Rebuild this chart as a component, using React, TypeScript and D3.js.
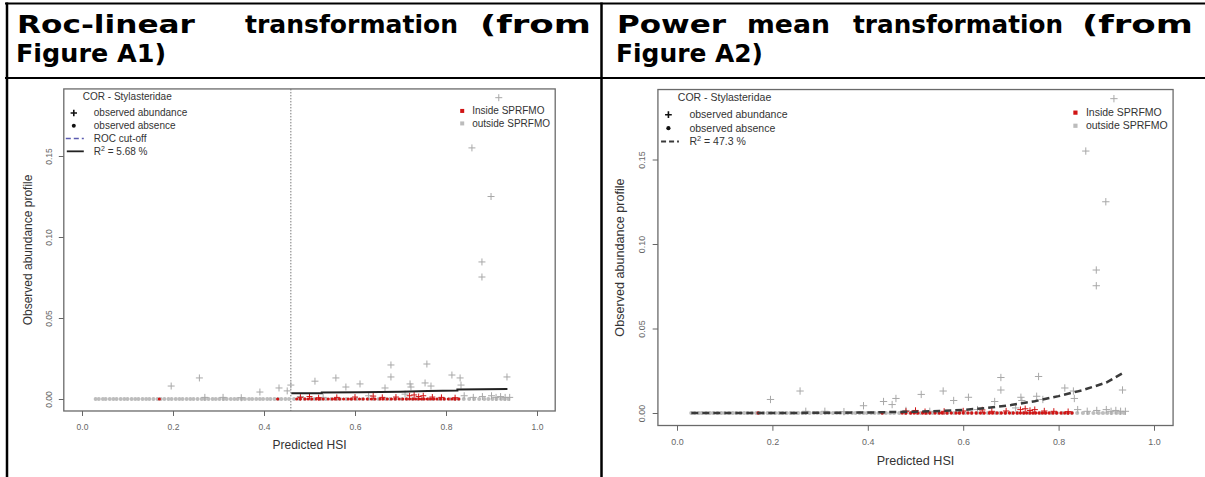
import React, { useEffect, useRef } from 'react';
import * as d3 from 'd3';

// predicted HSI of absence records (observed abundance = 0)
const absentOutsideX = [
  0.03, 0.037, 0.046, 0.052, 0.061, 0.069, 0.076, 0.085, 0.093, 0.1, 0.109, 0.117, 0.124, 0.133,
  0.141, 0.148, 0.157, 0.166, 0.173, 0.181, 0.19, 0.197, 0.206, 0.214, 0.221, 0.23, 0.238, 0.245,
  0.254, 0.263, 0.27, 0.278, 0.287, 0.294, 0.302, 0.311, 0.318, 0.327, 0.335, 0.342, 0.351, 0.358,
  0.367, 0.374, 0.383, 0.391, 0.398, 0.407, 0.414, 0.423, 0.431, 0.438, 0.447, 0.455,
  0.466, 0.478, 0.489, 0.503, 0.511, 0.524, 0.536, 0.548, 0.559, 0.567, 0.581, 0.592, 0.604, 0.617,
  0.629, 0.641, 0.652, 0.668, 0.677, 0.689, 0.703, 0.714, 0.727, 0.738, 0.749, 0.762, 0.771, 0.784,
  0.796, 0.808, 0.819, 0.828, 0.839, 0.851, 0.862, 0.873, 0.884, 0.893, 0.902, 0.911, 0.921, 0.929, 0.937
];
const absentInsideX = [
  0.17, 0.43, 0.472, 0.48, 0.49, 0.497, 0.505, 0.515, 0.522, 0.53, 0.541, 0.55, 0.556, 0.566, 0.575,
  0.585, 0.592, 0.6, 0.61, 0.618, 0.627, 0.636, 0.644, 0.655, 0.662, 0.671, 0.68, 0.688, 0.697, 0.705,
  0.713, 0.72, 0.727, 0.733, 0.74, 0.746, 0.752, 0.759, 0.766, 0.773, 0.78, 0.788, 0.796, 0.805,
  0.813, 0.82, 0.828
];

// abundance records [predicted HSI, observed abundance profile]
const presentOutside: [number, number][] = [
  [0.916, 0.186], [0.857, 0.155], [0.899, 0.125], [0.879, 0.0846], [0.879, 0.0753],
  [0.196, 0.008], [0.258, 0.013], [0.391, 0.0043], [0.433, 0.0068], [0.451, 0.005], [0.459, 0.0086],
  [0.512, 0.011], [0.558, 0.013], [0.58, 0.0074], [0.611, 0.0093], [0.666, 0.0068], [0.679, 0.021],
  [0.679, 0.0136], [0.721, 0.0093], [0.723, 0.0074], [0.758, 0.0216], [0.754, 0.0099], [0.767, 0.008],
  [0.813, 0.0148], [0.831, 0.013], [0.833, 0.0086], [0.934, 0.0136],
  [0.27, 0.001], [0.31, 0.001], [0.35, 0.0008], [0.48, 0.0015], [0.53, 0.001], [0.63, 0.002],
  [0.71, 0.003], [0.84, 0.002], [0.86, 0.001], [0.88, 0.0015], [0.9, 0.002], [0.91, 0.001],
  [0.92, 0.0015], [0.93, 0.001], [0.94, 0.001]
];
const presentInside: [number, number][] = [
  [0.48, 0.001], [0.5, 0.0015], [0.52, 0.0008], [0.56, 0.001], [0.6, 0.0012], [0.64, 0.0018],
  [0.66, 0.001], [0.69, 0.0012], [0.72, 0.002], [0.73, 0.0025], [0.74, 0.0015], [0.75, 0.002],
  [0.77, 0.0012], [0.79, 0.001], [0.82, 0.0008]
];

// fitted curves
const rocCutoff = 0.459;
const rocFitX = [0.46, 0.527, 0.527, 0.61, 0.7, 0.76, 0.825, 0.825, 0.935];
const rocFitY = [0.0035, 0.0036, 0.004, 0.0042, 0.0045, 0.0049, 0.0052, 0.0059, 0.0062];
const powerFitX = [0.03, 0.1, 0.2, 0.3, 0.4, 0.5, 0.55, 0.6, 0.65, 0.7, 0.75, 0.8, 0.85, 0.9, 0.935];
const powerFitY = [0, 0, 0.00002, 0.0001, 0.0003, 0.0008, 0.0012, 0.0018, 0.003, 0.0047, 0.007, 0.01, 0.0135, 0.018, 0.0237];

const xTicks = [0, 0.2, 0.4, 0.6, 0.8, 1.0];
const yTicks = [0, 0.05, 0.1, 0.15];

const FONT = '"Liberation Sans", Arial, sans-serif';
const RED = '#d01414';

const panels = [
  { x0: 82, x1: 537, y0: 399, y15: 156, k: 1, fit: 'roc', r2: '5.68' },
  { x0: 677, x1: 1154, y0: 413, y15: 159.5, k: 1.05, fit: 'power', r2: '47.3' }
];

// header words: [text, left, right, baseline]
const headerWords: [string, number, number, number][] = [
  ['Roc-linear', 17, 195, 33], ['transformation', 245, 458, 33], ['(from', 480, 591, 33],
  ['Figure A1)', 16, 166, 62],
  ['Power', 617, 726, 33], ['mean', 747, 830, 33], ['transformation', 853, 1063, 33], ['(from', 1082, 1193, 33],
  ['Figure A2)', 616, 763, 62]
];

const plus = (cx: number, cy: number, s: number) =>
  `M${cx - s},${cy}H${cx + s}M${cx},${cy - s}V${cy + s}`;

const drawPanel = (svg: any, p: any) => {
  const k = p.k;
  const x = d3.scaleLinear().domain([0, 1]).range([p.x0, p.x1]);
  const y = d3.scaleLinear().domain([0, 0.15]).range([p.y0, p.y15]);
  const g = svg.append('g').attr('class', 'panel').attr('font-family', FONT);

  const left = x(-0.04), right = x(1.04), bottom = y(-0.0074), top = y(0.1914);

  if (p.fit === 'roc') {
    g.append('line')
      .attr('x1', x(rocCutoff)).attr('x2', x(rocCutoff))
      .attr('y1', top).attr('y2', bottom)
      .attr('stroke', '#777').attr('stroke-width', 1)
      .attr('stroke-dasharray', '1.5,1.5');
  }

  // absences and abundances
  g.selectAll('.abs-out').data(absentOutsideX).enter().append('circle')
    .attr('cx', (d: number) => x(d)).attr('cy', y(0)).attr('r', 2 * k)
    .attr('fill', '#bdbdbd');
  g.append('path')
    .attr('d', presentOutside.map(([a, b]) => plus(x(a), y(b), 3.5 * k)).join(''))
    .attr('stroke', '#a8a8a8').attr('stroke-width', 1).attr('fill', 'none');
  g.selectAll('.abs-in').data(absentInsideX).enter().append('circle')
    .attr('cx', (d: number) => x(d)).attr('cy', y(0)).attr('r', 1.6 * k)
    .attr('fill', RED);
  g.append('path')
    .attr('d', presentInside.map(([a, b]) => plus(x(a), y(b), 3 * k)).join(''))
    .attr('stroke', RED).attr('stroke-width', 1).attr('fill', 'none');

  // fitted line
  const fx = p.fit === 'roc' ? rocFitX : powerFitX;
  const fy = p.fit === 'roc' ? rocFitY : powerFitY;
  const line = d3.line<number>().x((_d, i) => x(fx[i])).y(d => y(d));
  const path = g.append('path').attr('d', line(fy)).attr('fill', 'none');
  if (p.fit === 'roc') {
    path.attr('stroke', '#222').attr('stroke-width', 2);
  } else {
    path.attr('stroke', '#3a3a3a').attr('stroke-width', 2.5).attr('stroke-dasharray', '7,4');
  }

  // box
  g.append('rect')
    .attr('x', left).attr('y', top).attr('width', right - left).attr('height', bottom - top)
    .attr('fill', 'none').attr('stroke', '#6a6a6a').attr('stroke-width', 1.3);

  // x axis
  const xa = g.append('g').attr('transform', `translate(0,${bottom})`)
    .call(d3.axisBottom(x).tickValues(xTicks).tickFormat(d3.format('.1f')).tickSize(5 * k));
  xa.attr('font-family', FONT).attr('font-size', 8.5 * k);
  xa.select('.domain').remove();
  xa.selectAll('line').attr('stroke', '#666');
  xa.selectAll('text').attr('fill', '#666').attr('y', 19 * k).attr('dy', 0);

  // y axis
  const ya = g.append('g').attr('transform', `translate(${left},0)`)
    .call(d3.axisLeft(y).tickValues(yTicks).tickFormat(d3.format('.2f')).tickSize(5 * k));
  ya.attr('font-family', FONT).attr('font-size', 8.5 * k);
  ya.select('.domain').remove();
  ya.selectAll('line').attr('stroke', '#666');
  ya.selectAll('text')
    .attr('fill', '#666').attr('x', 0).attr('y', -12 * k).attr('dy', 0)
    .attr('text-anchor', 'middle').attr('transform', 'rotate(-90)');

  // axis titles
  g.append('text')
    .attr('x', (left + right) / 2).attr('y', bottom + 38 * k)
    .attr('text-anchor', 'middle').attr('font-size', 12 * k).attr('fill', '#333')
    .text('Predicted HSI');
  g.append('text')
    .attr('transform', `translate(${left - 32 * k},${(top + bottom) / 2}) rotate(-90)`)
    .attr('text-anchor', 'middle').attr('font-size', 12 * k).attr('fill', '#333')
    .text('Observed abundance profile');

  // legend top-left
  const fs = 10 * k;
  const lg = g.append('g').attr('font-size', fs).attr('fill', '#333');
  lg.append('text').attr('x', left + 19 * k).attr('y', top + 11 * k).text('COR - Stylasteridae');
  const rowY = (i: number) => top + 24 * k + i * 12.8 * k;
  const sx = left + 10 * k, tx = left + 30 * k;
  lg.append('path').attr('d', plus(sx, rowY(0), 3.2 * k)).attr('stroke', '#111').attr('stroke-width', 1.6);
  lg.append('circle').attr('cx', sx).attr('cy', rowY(1)).attr('r', 2 * k).attr('fill', '#111');
  lg.append('text').attr('x', tx).attr('y', rowY(0) + 3.5 * k).text('observed abundance');
  lg.append('text').attr('x', tx).attr('y', rowY(1) + 3.5 * k).text('observed absence');
  let r = 2;
  if (p.fit === 'roc') {
    lg.append('line').attr('x1', left + 2 * k).attr('x2', left + 20 * k)
      .attr('y1', rowY(r)).attr('y2', rowY(r))
      .attr('stroke', '#5b5bb0').attr('stroke-width', 1.6).attr('stroke-dasharray', '5,3');
    lg.append('text').attr('x', tx).attr('y', rowY(r) + 3.5 * k).text('ROC cut-off');
    r = 3;
    lg.append('line').attr('x1', left + 3 * k).attr('x2', left + 20 * k)
      .attr('y1', rowY(r)).attr('y2', rowY(r))
      .attr('stroke', '#222').attr('stroke-width', 1.8);
  } else {
    lg.append('line').attr('x1', left + 3 * k).attr('x2', left + 20 * k)
      .attr('y1', rowY(r)).attr('y2', rowY(r))
      .attr('stroke', '#3a3a3a').attr('stroke-width', 2).attr('stroke-dasharray', '5,3');
  }
  const r2 = lg.append('text').attr('x', tx).attr('y', rowY(r) + 3.5 * k);
  r2.append('tspan').text('R');
  r2.append('tspan').attr('dy', -4 * k).attr('font-size', 7 * k).text('2');
  r2.append('tspan').attr('dy', 4 * k).text(` = ${p.r2} %`);

  // legend top-right
  const sqx = right - 93 * k;
  [['Inside SPRFMO', RED], ['outside SPRFMO', '#bcbcbc']].forEach(([label, c], i) => {
    const cy = top + 22 * k + i * 12.5 * k;
    lg.append('rect').attr('x', sqx - 2 * k).attr('y', cy - 2 * k)
      .attr('width', 4 * k).attr('height', 4 * k).attr('fill', c);
    lg.append('text').attr('x', sqx + 10 * k).attr('y', cy + 3.5 * k).text(label);
  });
};

const App = () => {
  const svgRef = useRef<SVGSVGElement>(null);

  useEffect(() => {
    const svg = d3.select(svgRef.current);
    svg.selectAll('.panel').remove();
    panels.forEach(p => drawPanel(svg, p));
  }, []);

  const head = { fontFamily: '"DejaVu Sans", Verdana, sans-serif', fontWeight: 700, fontSize: 25, fill: '#000' };

  return (
    <div style={{ position: 'absolute', left: 0, top: 0 }}>
      <svg ref={svgRef} width={1205} height={477} style={{ display: 'block', background: '#fff' }}>
        <line x1={5} x2={1205} y1={3.5} y2={3.5} stroke="#000" strokeWidth={2} />
        <line x1={5} x2={1205} y1={78} y2={78} stroke="#000" strokeWidth={2} />
        <line x1={7} x2={7} y1={2.5} y2={477} stroke="#000" strokeWidth={2.5} />
        <line x1={601.5} x2={601.5} y1={2.5} y2={477} stroke="#000" strokeWidth={2.5} />
        <g style={head}>
          {headerWords.map(([t, x0, x1, yb], i) => (
            <text key={i} x={x0} y={yb} textLength={x1 - x0} lengthAdjust="spacingAndGlyphs">{t}</text>
          ))}
        </g>
      </svg>
    </div>
  );
};

export default App;
